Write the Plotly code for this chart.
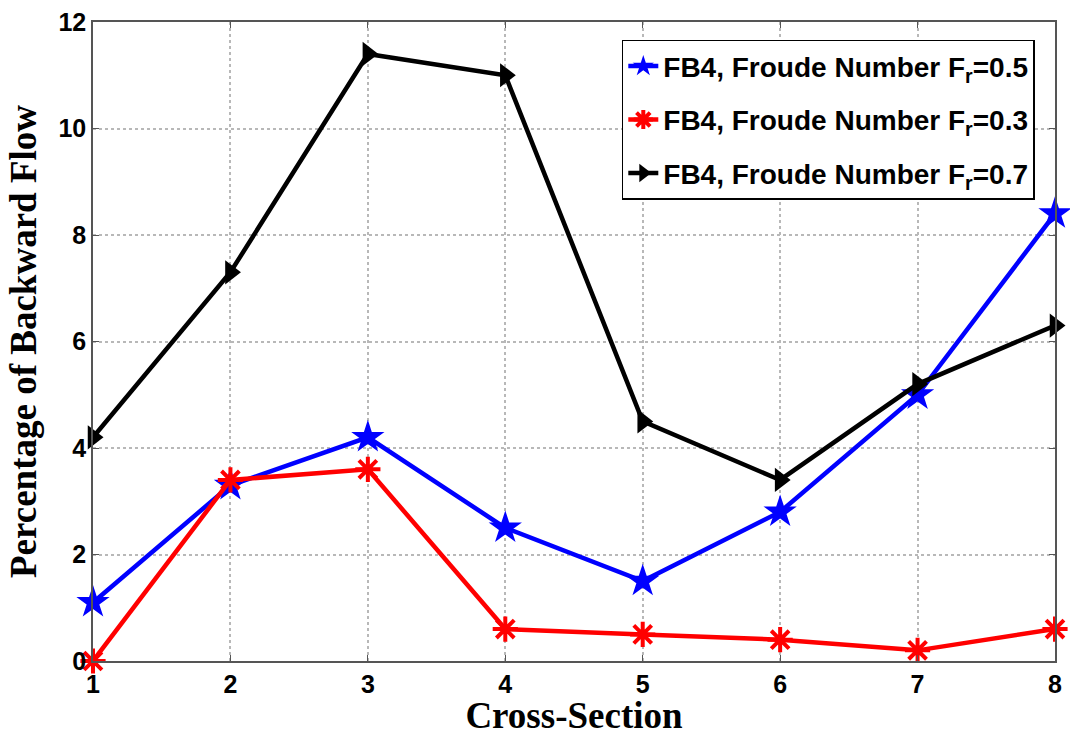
import plotly.graph_objects as go

cross_section = [1, 2, 3, 4, 5, 6, 7, 8]
fr05 = [1.1, 3.3, 4.2, 2.5, 1.5, 2.8, 5.0, 8.4]
fr03 = [0.0, 3.4, 3.6, 0.6, 0.5, 0.4, 0.2, 0.6]
fr07 = [4.2, 7.3, 11.4, 11.0, 4.5, 3.4, 5.2, 6.3]
y_ticks = [0, 2, 4, 6, 8, 10, 12]

names = [
    "FB4, Froude Number F<sub>r</sub>=0.5",
    "FB4, Froude Number F<sub>r</sub>=0.3",
    "FB4, Froude Number F<sub>r</sub>=0.7",
]

fig = go.Figure()
fig.add_trace(go.Scatter(x=cross_section, y=fr05, mode="lines+markers", name=names[0],
                         legendgroup="a", cliponaxis=False,
                         line=dict(color="#0000ff", width=4.5),
                         marker=dict(symbol="star", size=25, color="#0000ff")))
fig.add_trace(go.Scatter(x=cross_section, y=fr03, mode="lines+markers", name=names[1],
                         legendgroup="b", cliponaxis=False,
                         line=dict(color="#ff0000", width=4.5),
                         marker=dict(symbol="asterisk-open", size=21, color="#ff0000",
                                     line=dict(color="#ff0000", width=4))))
fig.add_trace(go.Scatter(x=cross_section, y=fr07, mode="lines+markers", name=names[2],
                         legendgroup="c", cliponaxis=False,
                         line=dict(color="#000000", width=4.5),
                         marker=dict(symbol="triangle-right", size=21, color="#000000")))

axis_common = dict(
    showline=True, linecolor="#555555", linewidth=1.5, mirror="ticks",
    ticks="inside", ticklen=6, tickcolor="#555555",
    showgrid=True, gridcolor="#b8b8b8", griddash="dot", gridwidth=1.5,
    zeroline=False,
    tickfont=dict(family="Liberation Sans", size=25, color="black", weight="bold"),
)

fig.update_xaxes(range=[1, 8], tickvals=cross_section,
                 title=dict(text="Cross-Section", standoff=4,
                            font=dict(family="Liberation Serif", size=37, color="black", weight="bold")),
                 **axis_common)
fig.update_yaxes(range=[0, 12], tickvals=y_ticks,
                 title=dict(text="Percentage of Backward Flow", standoff=10,
                            font=dict(family="Liberation Serif", size=37, color="black", weight="bold")),
                 **axis_common)

fig.update_layout(
    width=1070, height=736,
    margin=dict(l=93, r=8, t=18, b=74),
    plot_bgcolor="white", paper_bgcolor="white",
    legend=dict(x=0.979, y=0.972, xanchor="right", yanchor="top",
                bgcolor="white", bordercolor="black", borderwidth=1.5,
                font=dict(family="Liberation Sans", size=28, color="black", weight="bold"),
                traceorder="grouped", tracegroupgap=14),
    showlegend=True,
)

fig.write_html("out.html")
